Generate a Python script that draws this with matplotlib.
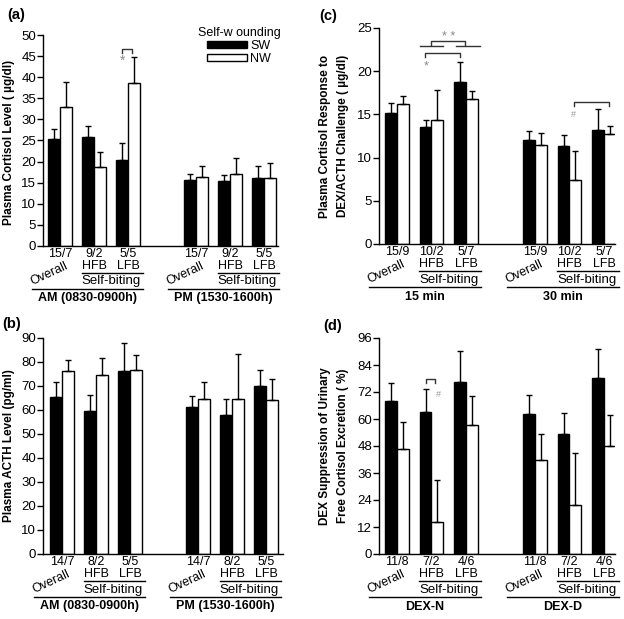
import numpy as np
import matplotlib
matplotlib.use('Agg')
import matplotlib.pyplot as plt
import matplotlib.transforms as mtransforms
from matplotlib.patches import Patch

plt.rcParams['font.family'] = ['Liberation Sans', 'DejaVu Sans']

pos = np.array([0, 1, 2, 4, 5, 6])

# (a) plasma cortisol
a_sw = [25.4, 25.9, 20.4, 15.6, 15.3, 16.0]
a_sw_err = [2.3, 2.5, 3.9, 1.4, 1.6, 3.0]
a_nw = [33.0, 18.7, 38.6, 16.4, 17.1, 16.0]
a_nw_err = [5.9, 3.5, 6.3, 2.6, 3.7, 3.6]
a_ticks = ['15/7', '9/2', '5/5']

# (b) plasma ACTH
b_sw = [65.5, 59.7, 76.4, 61.2, 57.8, 70.1]
b_sw_err = [6.2, 6.7, 11.4, 4.8, 6.6, 6.6]
b_nw = [76.1, 74.7, 76.7, 64.4, 64.6, 64.2]
b_nw_err = [4.6, 7.1, 6.3, 7.3, 18.6, 8.6]
b_ticks = ['14/7', '8/2', '5/5']

# (c) cortisol response to DEX/ACTH
c_sw = [15.2, 13.5, 18.7, 12.0, 11.4, 13.2]
c_sw_err = [1.15, 0.8, 2.4, 1.1, 1.2, 2.4]
c_nw = [16.2, 14.3, 16.8, 11.5, 7.4, 12.7]
c_nw_err = [0.95, 3.5, 0.9, 1.3, 3.4, 0.9]
c_ticks = ['15/9', '10/2', '5/7']

# (d) DEX suppression
d_sw = [68.0, 63.1, 76.4, 62.2, 53.2, 78.4]
d_sw_err = [8.1, 10.1, 13.8, 8.3, 9.5, 12.8]
d_nw = [46.7, 14.4, 57.2, 41.6, 22.0, 48.1]
d_nw_err = [12.1, 18.3, 12.9, 11.9, 23.0, 13.9]
d_ticks = ['11/8', '7/2', '4/6']

W, H = 624, 619
fig = plt.figure(figsize=(W / 100, H / 100), dpi=100)


def px_axes(l, r, t, b):
    return fig.add_axes([l / W, 1 - b / H, (r - l) / W, (b - t) / H])


def below(ax, dy):
    base = mtransforms.blended_transform_factory(ax.transData, ax.transAxes)
    return mtransforms.offset_copy(base, fig=fig, x=0, y=-dy, units='dots')


def panel(ax, sw, sw_err, nw, nw_err, ymax, step, xlim, ticks, groups):
    bw = 0.34
    z = np.zeros(len(sw))
    ekw = dict(capsize=2.4, elinewidth=1, capthick=1, ecolor='black')
    ax.bar(pos - bw / 2, sw, bw, color='black', edgecolor='black', lw=1,
           yerr=[z, sw_err], error_kw=ekw, label='SW')
    ax.bar(pos + bw / 2, nw, bw, color='white', edgecolor='black', lw=1,
           yerr=[z, nw_err], error_kw=ekw, label='NW')
    ax.set_ylim(0, ymax)
    ax.set_xlim(*xlim)
    ax.set_yticks(np.arange(0, ymax + 0.1, step))
    ax.set_xticks([])
    ax.spines['top'].set_visible(False)
    ax.spines['right'].set_visible(False)
    ax.tick_params(axis='y', length=4, width=1, labelsize=9.5, pad=1)
    for s in ['left', 'bottom']:
        ax.spines[s].set_linewidth(1)

    fs = 9
    for g, off in enumerate([0, 4]):
        ax.text(off, 0, ticks[0], transform=below(ax, 8), ha='center', va='center', fontsize=fs)
        for k, sub in [(1, 'HFB'), (2, 'LFB')]:
            ax.text(off + k, 0, ticks[k], transform=below(ax, 8), ha='center', va='center', fontsize=fs)
            ax.text(off + k, 0, sub, transform=below(ax, 20), ha='center', va='center', fontsize=fs)
        ax.text(off - 0.32, 0, 'Overall', transform=below(ax, 28), ha='center', va='center',
                fontsize=fs, rotation=25)
        ax.plot([off + 0.64, off + 2.45], [0, 0], transform=below(ax, 27), color='black', lw=1, clip_on=False)
        ax.text(off + 1.5, 0, 'Self-biting', transform=below(ax, 35.5), ha='center', va='center', fontsize=9.5)
        ax.plot([off - 0.82, off + 2.45], [0, 0], transform=below(ax, 43), color='black', lw=1, clip_on=False)
        ax.text(off + 0.8, 0, groups[g], transform=below(ax, 52.5), ha='center', va='center',
                fontsize=9, fontweight='bold')


def bracket(ax, x0, x1, y, drop, color='#333333'):
    ax.plot([x0, x0, x1, x1], [y - drop, y, y, y - drop], color=color, lw=1, clip_on=False)


ax_a = px_axes(43, 278, 35, 246)
panel(ax_a, a_sw, a_sw_err, a_nw, a_nw_err, 50, 5, (-0.5, 6.41), a_ticks,
      ['AM (0830-0900h)', 'PM (1530-1600h)'])
bracket(ax_a, 1.81, 2.11, 46.8, 1.0)
ax_a.text(1.83, 44.0, '*', color='#888888', ha='center', va='center', fontsize=10)
ax_a.legend(handles=[Patch(facecolor='black', edgecolor='black', label='SW'),
                     Patch(facecolor='white', edgecolor='black', label='NW')],
            title='Self-w ounding', frameon=False, loc='upper right', bbox_to_anchor=(1.01, 1.04),
            fontsize=9, title_fontsize=9, handlelength=3.2, handleheight=0.55,
            labelspacing=0.1, handletextpad=0.3, borderpad=0, borderaxespad=0)

ax_b = px_axes(43, 283, 338, 554)
panel(ax_b, b_sw, b_sw_err, b_nw, b_nw_err, 90, 10, (-0.56, 6.5), b_ticks,
      ['AM (0830-0900h)', 'PM (1530-1600h)'])

ax_c = px_axes(379, 615, 28, 244)
panel(ax_c, c_sw, c_sw_err, c_nw, c_nw_err, 25, 5, (-0.52, 6.32), c_ticks,
      ['15 min', '30 min'])
bracket(ax_c, 1.0, 1.97, 23.5, 0.5)
ax_c.plot([0.67, 1.33], [22.9, 22.9], color='#333333', lw=1)
ax_c.plot([1.71, 2.4], [22.9, 22.9], color='#333333', lw=1)
ax_c.text(1.5, 24.0, '* *', color='#888888', ha='center', va='center', fontsize=9)
bracket(ax_c, 0.81, 1.83, 22.1, 0.5)
ax_c.text(0.86, 20.6, '*', color='#888888', ha='center', va='center', fontsize=9)
bracket(ax_c, 5.13, 6.15, 16.4, 0.4)
ax_c.text(5.13, 15.0, '#', color='#999999', ha='center', va='center', fontsize=6.5)

ax_d = px_axes(379, 615, 338, 554)
panel(ax_d, d_sw, d_sw_err, d_nw, d_nw_err, 96, 12, (-0.52, 6.32), d_ticks,
      ['DEX-N', 'DEX-D'])
bracket(ax_d, 0.83, 1.1, 77.6, 1.8)
ax_d.text(1.19, 70.7, '#', color='#999999', ha='center', va='center', fontsize=6.5)

# y labels and panel letters (pixel positions)
def ftext(x, y, s, **kw):
    fig.text(x / W, 1 - y / H, s, **kw)


ftext(9, 142, 'Plasma Cortisol Level ( \u00b5g/dl)', rotation=90, ha='center', va='center',
      fontsize=8.5, fontweight='bold')
ftext(9, 446, 'Plasma ACTH Level (pg/ml)', rotation=90, ha='center', va='center',
      fontsize=8.5, fontweight='bold')
ftext(334, 136, 'Plasma Cortisol Response to\nDEX/ACTH Challenge ( \u00b5g/dl)', rotation=90,
      ha='center', va='center', fontsize=8.5, fontweight='bold', linespacing=1.6, multialignment='center')
ftext(334, 446, 'DEX Suppression of Urinary\nFree Cortisol Excretion ( %)', rotation=90,
      ha='center', va='center', fontsize=8.5, fontweight='bold', linespacing=1.6, multialignment='center')

ftext(16, 15, '(a)', ha='center', va='center', fontsize=10.5, fontweight='bold')
ftext(328, 16, '(c)', ha='center', va='center', fontsize=10.5, fontweight='bold')
ftext(12, 324, '(b)', ha='center', va='center', fontsize=10.5, fontweight='bold')
ftext(333, 326, '(d)', ha='center', va='center', fontsize=10.5, fontweight='bold')

plt.savefig('out.png', dpi=100)
plt.close()
